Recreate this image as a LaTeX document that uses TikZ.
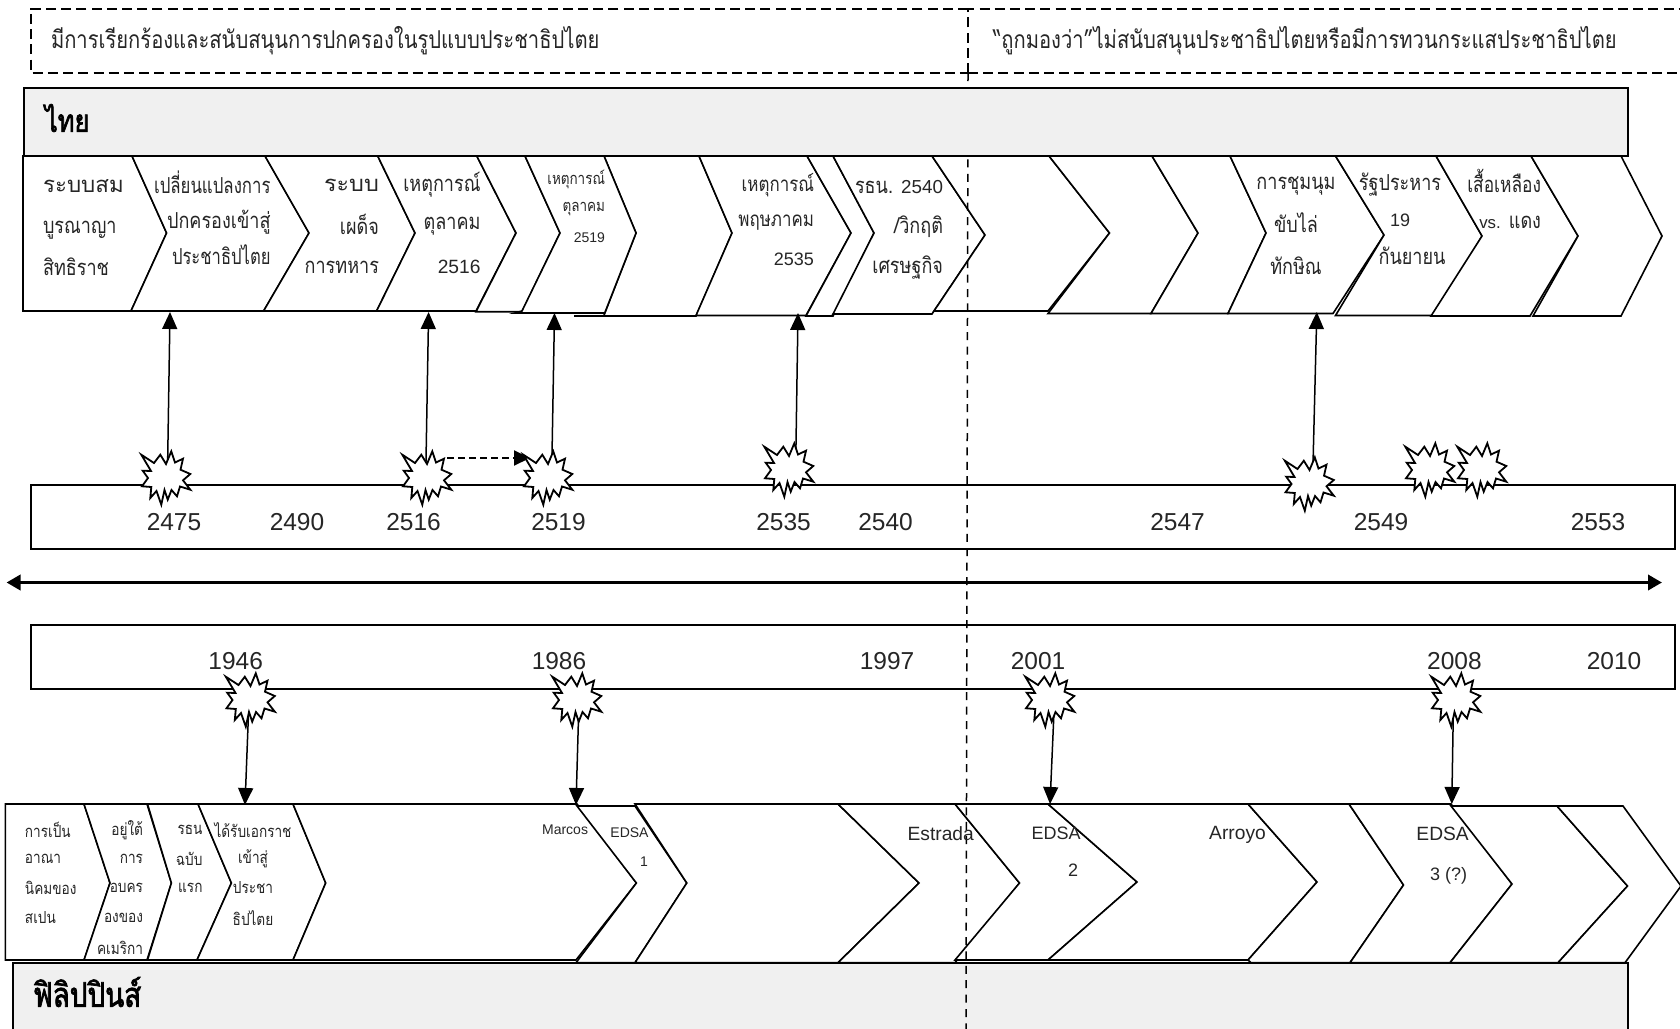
\documentclass[tikz,border=0pt]{standalone}
\usepackage{fontspec}
\usetikzlibrary{arrows.meta}
\newfontfamily\thaifont[Script=Thai,FakeStretch=0.82]{Loma}
\newfontfamily\thaibold[Script=Thai,FakeStretch=0.82,FakeBold=2.2]{Loma}
\newfontfamily\latfont{Liberation Sans}
\newcommand{\fs}[1]{\fontsize{#1}{#1}\selectfont}
\newcommand{\xw}[2]{\scalebox{#1}[1]{#2}}
\newcount\tc
\newcommand{\tx}[4][]{\global\advance\tc by 1 \node[lbl,#1] (t\the\tc) at (#2,#3) {#4};}
\newcommand{\burst}[3]{%
  \coordinate (#1) at (#2,#3);
  \draw[burstline,shift={(#2,#3)}] (-24.7,-23.3)--(-12,-15)--(-5.7,-23.3)--(0,-14)--(5.3,-26.7)--(9,-15.5)--(17,-19.3)--(14.5,-8.3)--(24.3,-4)--(17,2.3)--(24.3,11.7)--(14,8.5)--(11,18.3)--(5.5,12)--(1.7,21.7)--(-1.5,12)--(-4.7,26.7)--(-9.5,13)--(-15.7,20)--(-14.7,9)--(-24,8.3)--(-18,0)--(-23.3,-7.3)--(-15,-7)--cycle;}
\tikzset{
  lbl/.style={inner sep=0pt,outer sep=0pt,text=black!85},
  R/.style={anchor=east},
  L/.style={anchor=west},
  chev/.style={draw=black,fill=white,line width=0.8pt,line join=miter},
  barbox/.style={draw=black,fill=black!6,line width=1pt},
  yearbox/.style={draw=black,fill=white,line width=1pt},
  topbox/.style={draw=black,line width=1pt,dash pattern=on 5pt off 2.6pt},
  divider/.style={draw=black,line width=0.75pt,dash pattern=on 4pt off 3.2pt},
  burstline/.style={draw=black,fill=white,line width=0.9pt,line join=miter},
  conn/.style={draw=black,line width=0.75pt,-{Triangle[length=8.5pt,width=7.5pt]}},
  dashconn/.style={draw=black,line width=1pt,dash pattern=on 3.5pt off 2pt,-{Triangle[length=8pt,width=7.5pt]}},
  mainaxis/.style={draw=black,line width=1.8pt,{Triangle[length=7pt,width=7.5pt]}-{Triangle[length=7pt,width=7.5pt]}},
  thA/.style={font=\thaifont\fs{12.3}},
  thB/.style={font=\thaifont\fs{11}},
  thC/.style={font=\thaifont\fs{10.3}},
  thD/.style={font=\thaifont\fs{8.2}},
  thE/.style={font=\thaifont\fs{8.3}},
  thH/.style={font=\thaibold\fs{15.5},text=black},
  thJ/.style={font=\thaibold\fs{17},text=black},
  latY/.style={font=\latfont\fs{12.25}},
  latB/.style={font=\latfont\fs{9.6}},
  latC/.style={font=\latfont\fs{9}},
  latS/.style={font=\latfont\fs{7}},
}
\begin{document}
\begin{tikzpicture}[x=0.5pt,y=-0.5pt]
\useasboundingbox (0,0) rectangle (1680,1028);
\clip (0,0) rectangle (1680,1028);
\fill[white] (0,0) rectangle (1680,1028);
% header dashed boxes
\draw[topbox] (968,8.5) -- (31,8.5) -- (31,73) -- (968,73);
\draw[topbox] (968,73) -- (968,8.5) -- (1690,8.5);
\draw[topbox] (968,73) -- (1690,73);
% time boxes
\draw[yearbox] (31,485) rectangle (1674.5,549.3);
\draw[yearbox] (31,625) rectangle (1674.5,689.3);
% time axis
\coordinate (axl) at (6.5,582.5);
\coordinate (axr) at (1662,582.5);
\draw[mainaxis] (axl) -- (axr);
% Thai chevrons
\draw[chev] (23,156)--(132,156)--(166.6,233)--(131,311)--(23,311)--cycle;
\draw[chev] (132,156)--(265,156)--(309,233)--(263.6,311)--(131,311)--(166.6,233)--cycle;
\draw[chev] (265,156)--(377.7,156)--(415,233)--(376.6,311)--(263.6,311)--(309,233)--cycle;
\draw[chev] (377.7,156)--(476.8,156)--(516,233)--(476,311)--(376.6,311)--(415,233)--cycle;
\draw[chev] (476.8,156)--(525,156)--(560,233)--(522,311.7)--(476,311.7)--(516,233)--cycle;
\draw[chev] (574,316)--(696,316)--(732,233)--(699,156)--(604,156)--(636,233)--(603.7,316)--cycle;
\draw[chev] (525,156)--(604,156)--(636,233)--(604.7,313)--(515,313)--(522,311)--(560,233)--cycle;
\draw[chev] (699,156)--(807,156)--(851,233)--(806,315.5)--(696,315.5)--(732,233)--cycle;
\draw[chev] (807,156)--(833,156)--(874,233)--(833,316)--(806,316)--(851,233)--cycle;
\draw[chev] (833,156)--(932,156)--(985,235)--(932,314)--(833,314)--(874,233)--cycle;
\draw[chev] (932,156)--(1049,156)--(1109.5,233)--(1048,311)--(934,311)--(985,235)--cycle;
\draw[chev] (1049,156)--(1152,156)--(1198,233)--(1151,313.5)--(1048,313.5)--(1109.5,233)--cycle;
\draw[chev] (1152,156)--(1230,156)--(1266,233)--(1228,313.5)--(1151,313.5)--(1198,233)--cycle;
\draw[chev] (1230,156)--(1335.5,156)--(1384,235)--(1333,313.5)--(1228,313.5)--(1266,233)--cycle;
\draw[chev] (1335.5,156)--(1436,156)--(1482,236)--(1435,315.5)--(1335.5,315.5)--(1384,235)--cycle;
\draw[chev] (1436,156)--(1531,156)--(1578,236)--(1530,316)--(1431,316)--(1482,236)--cycle;
\draw[chev] (1531,156)--(1621,156)--(1662,236)--(1621,316)--(1533,316)--(1578,236)--cycle;
% Philippine chevrons
\draw[chev] (5.4,804)--(84,804)--(110,883)--(84,960)--(5.4,960)--cycle;
\draw[chev] (84,804)--(147,804)--(171.4,883)--(147,960)--(84,960)--(110,883)--cycle;
\draw[chev] (147.5,804)--(198,804)--(231.4,883)--(197,960)--(147.5,960)--(171.4,883)--cycle;
\draw[chev] (198,804)--(293,804)--(325.7,883)--(293,960)--(197,960)--(231.4,883)--cycle;
\draw[chev] (293,804)--(577,804)--(636.4,883)--(576,960)--(293,960)--(325.7,883)--cycle;
\draw[chev] (577,806)--(635,806)--(686.8,883)--(635,962.7)--(576,962.7)--(636.4,883)--cycle;
\draw[chev] (635,804)--(838,804)--(919,883)--(838,962.7)--(635,962.7)--(686.8,883)--cycle;
\draw[chev] (838,804)--(955,804)--(1019.5,883)--(955,962.7)--(838,962.7)--(919,883)--cycle;
\draw[chev] (955,804)--(1048,804)--(1137,882)--(1048,960)--(955,960)--(1019.5,883)--cycle;
\draw[chev] (1048,804)--(1248,804)--(1317,882)--(1248,960)--(1048,960)--(1137,882)--cycle;
\draw[chev] (1251,804)--(1349,804)--(1403.5,885)--(1350,962.7)--(1251,962.7)--(1248,960)--(1317,882)--(1248,804)--cycle;
\draw[chev] (1349,804)--(1451,804)--(1512,884)--(1450,962.7)--(1350,962.7)--(1403.5,885)--cycle;
\draw[chev] (1451,806)--(1557,806)--(1627.5,886)--(1558,962.7)--(1450,962.7)--(1512,884)--cycle;
\draw[chev] (1557,806)--(1623,806)--(1681,886)--(1625,962.7)--(1558,962.7)--(1627.5,886)--cycle;
% Philippines bar
\draw[barbox] (13.4,962.7) rectangle (1627.5,1040);
% divider
\coordinate (diva) at (968,73);
\coordinate (divb) at (966,1030);
\draw[divider] (diva) -- (divb);
% Thailand bar
\draw[barbox] (24,87.5) rectangle (1627.5,155.7);
% connectors
\coordinate (s1l) at (167.4,478);
\coordinate (s2l) at (425.7,478);
\coordinate (s3l) at (551.6,478);
\coordinate (s4l) at (795.6,470);
\coordinate (s5l) at (1312.5,484);
\coordinate (p1l) at (249,700);
\coordinate (p2l) at (579,700);
\coordinate (p3l) at (1054.5,700);
\coordinate (p4l) at (1453.5,700);
\coordinate (e1) at (170,312);
\coordinate (e2) at (428.6,312);
\coordinate (e3) at (554.5,313);
\coordinate (e4) at (798,313);
\coordinate (e5) at (1316.8,312);
\coordinate (f1) at (245,805);
\coordinate (f2) at (576,805);
\coordinate (f3) at (1050,804);
\coordinate (f4) at (1451.8,804);
\coordinate (dk1) at (447,458);
\coordinate (dk2) at (530,458);
\draw[conn] (s1l) -- (e1);
\draw[conn] (s2l) -- (e2);
\draw[conn] (s3l) -- (e3);
\draw[conn] (s4l) -- (e4);
\draw[conn] (s5l) -- (e5);
\draw[conn] (p1l) -- (f1);
\draw[conn] (p2l) -- (f2);
\draw[conn] (p3l) -- (f3);
\draw[conn] (p4l) -- (f4);
\draw[dashconn] (dk1) -- (dk2);
% bursts
\burst{s1}{166}{478}
\burst{s2}{427}{478}
\burst{s3}{548}{478}
\burst{s4}{789}{470}
\burst{s5}{1309.5}{484}
\burst{s6}{1430}{470}
\burst{s7}{1482}{470}
\burst{p1}{250.5}{700}
\burst{p2}{577}{700}
\burst{p3}{1050}{700}
\burst{p4}{1456}{700}
% header text
\tx[L,thA]{51}{41}{มีการเรียกร้องและสนับสนุนการปกครองในรูปแบบประชาธิปไตย}
\tx[L,thA]{993}{41}{“ถูกมองว่า”ไม่สนับสนุนประชาธิปไตยหรือมีการทวนกระแสประชาธิปไตย}
\tx[L,thH]{45}{118}{ไทย}
\tx[L,thJ]{33}{992}{ฟิลิปปินส์}
% Thai row text
\tx[L,thB]{43}{186}{\xw{1.24}{ระบบสม}}
\tx[L,thB]{43}{230}{บูรณาญา}
\tx[L,thB]{43}{267}{สิทธิราช}
\tx[R,thB]{270.5}{182}{\xw{0.93}{เปลี่ยนแปลงการ}}
\tx[R,thB]{270.5}{222}{ปกครองเข้าสู่}
\tx[R,thB]{270.5}{255}{\xw{0.92}{ประชาธิปไตย}}
\tx[R,thB]{379}{185}{\xw{1.3}{ระบบ}}
\tx[R,thB]{379}{224}{เผด็จ}
\tx[R,thB]{379}{267}{การทหาร}
\tx[R,thB]{480.5}{185}{เหตุการณ์}
\tx[R,thB]{480.5}{226}{ตุลาคม}
\tx[R,latB]{480.5}{267}{2516}
\tx[R,thD]{605}{179}{เหตุการณ์}
\tx[R,thD]{605}{209}{ตุลาคม}
\tx[R,latS]{605}{238}{2519}
\tx[R,thC]{814}{185}{เหตุการณ์}
\tx[R,thC]{814}{223}{พฤษภาคม}
\tx[R,latC]{814}{259}{2535}
\tx[R,thB]{943}{187}{รธน. {\latfont\fs{9.4}2540}}
\tx[R,thB]{943}{227}{/วิกฤติ}
\tx[R,thB]{943}{268}{เศรษฐกิจ}
\tx[thB]{1296}{186}{การชุมนุม}
\tx[thB]{1296}{223}{ขับไล่}
\tx[thB]{1296}{266}{ทักษิณ}
\tx[thB]{1400}{185}{รัฐประหาร}
\tx[latC]{1400}{220}{19}
\tx[thB]{1412}{256}{กันยายน}
\tx[R,thB]{1541}{181}{\xw{0.96}{เสื้อเหลือง}}
\tx[R,thB]{1541}{222}{{\latfont\fs{8.4}vs.} แดง}
% years
\tx[latY]{174}{521.7}{2475}
\tx[latY]{297}{521.7}{2490}
\tx[latY]{413.6}{521.7}{2516}
\tx[latY]{558.5}{521.7}{2519}
\tx[latY]{783.5}{521.7}{2535}
\tx[latY]{885.5}{521.7}{2540}
\tx[latY]{1177.5}{521.7}{2547}
\tx[latY]{1381}{521.7}{2549}
\tx[latY]{1598}{521.7}{2553}
\tx[latY]{235.7}{660.7}{1946}
\tx[latY]{559}{660.7}{1986}
\tx[latY]{887}{660.7}{1997}
\tx[latY]{1038}{660.7}{2001}
\tx[latY]{1454.4}{660.7}{2008}
\tx[latY]{1614}{660.7}{2010}
% Philippine row text
\tx[L,thE]{25}{830}{การเป็น}
\tx[L,thE]{25}{859}{อาณา}
\tx[L,thE]{25}{888}{นิคมของ}
\tx[L,thE]{25}{918}{สเปน}
\tx[R,thE]{143}{830}{อยู่ใต้}
\tx[R,thE]{143}{859}{การ}
\tx[R,thE]{143}{888}{อบคร}
\tx[R,thE]{143}{918}{องของ}
\tx[R,thE]{143}{948}{คเมริกา}
\tx[R,thE]{202.5}{830}{รธน}
\tx[R,thE]{202.5}{859}{ฉบับ}
\tx[R,thE]{202.5}{888}{แรก}
\tx[thE]{253}{830}{ได้รับเอกราช}
\tx[thE]{253}{859}{เข้าสู่}
\tx[thE]{253}{888}{ประชา}
\tx[thE]{253}{918}{ธิปไตย}
\tx[R,latS]{588}{830}{Marcos}
\tx[latS]{629.5}{833}{EDSA}
\tx[latS]{644}{862}{1}
\tx[latB]{940.7}{834}{Estrada}
\tx[latC]{1056}{833}{EDSA}
\tx[latC]{1073}{870}{2}
\tx[latB]{1237.5}{835}{Arroyo}
\tx[latB]{1442.6}{834}{EDSA}
\tx[latC]{1448.5}{876}{3 (?)}
\end{tikzpicture}
\end{document}
